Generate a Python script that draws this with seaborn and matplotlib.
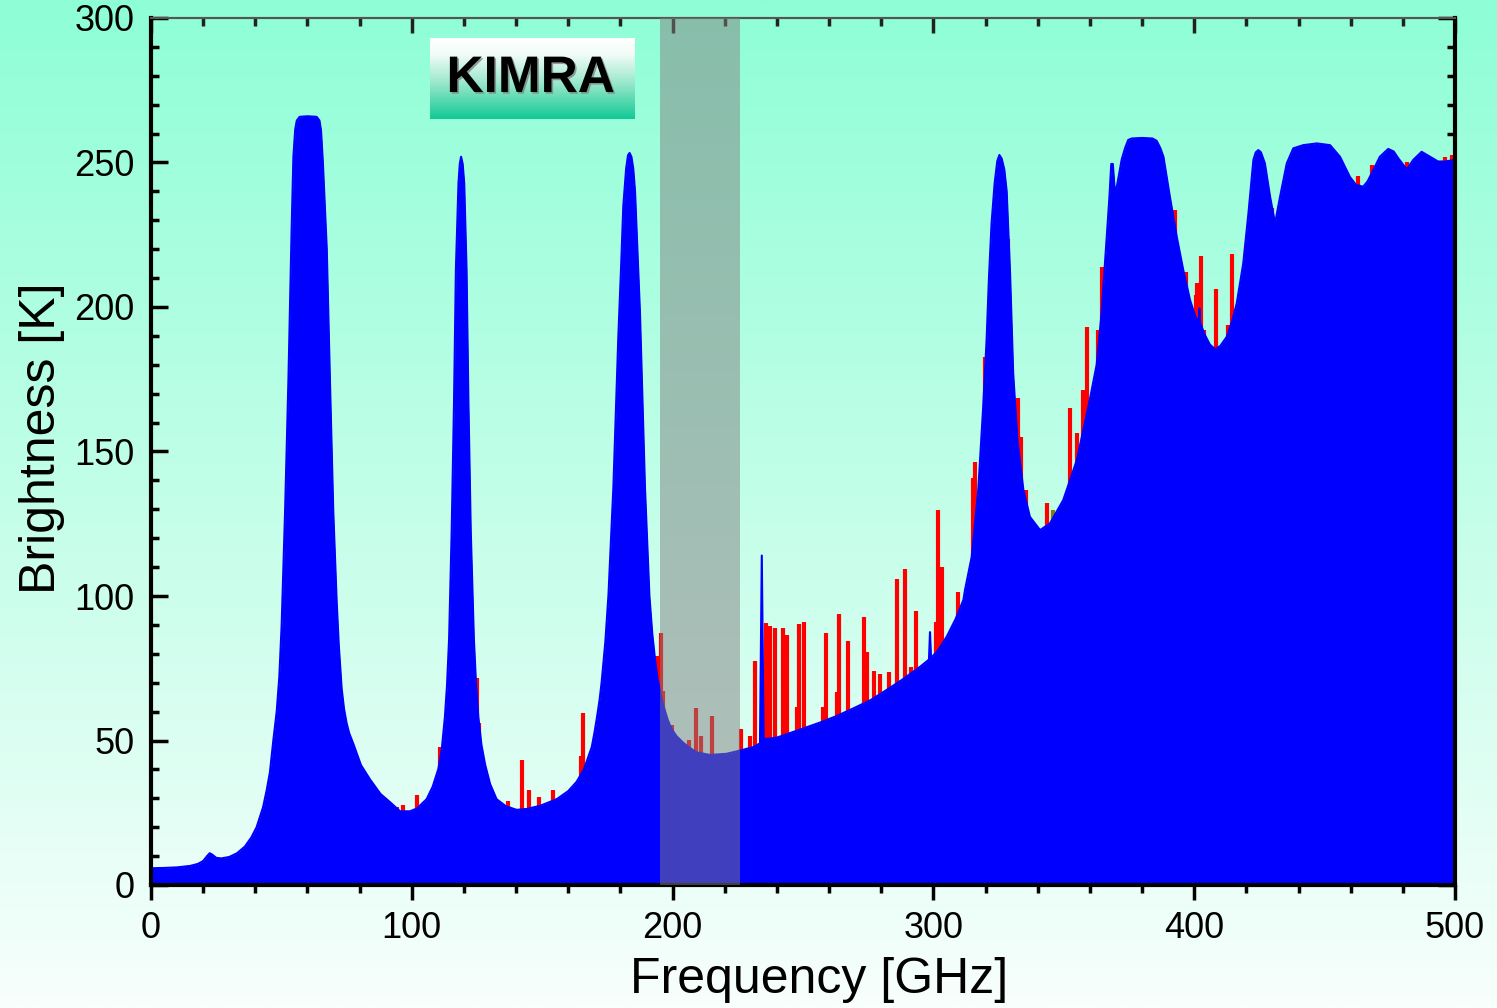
import numpy as np
import pandas as pd
import matplotlib
matplotlib.use("Agg")
import matplotlib.pyplot as plt
import seaborn as sns
from matplotlib.colors import LinearSegmentedColormap
from matplotlib.ticker import MultipleLocator
import matplotlib.patheffects as pe

# ---------------- data ----------------
freq_ghz = [
    0, 5, 10, 15, 18, 20, 21.5, 22.5, 23.5, 25,
    27, 30, 33, 36, 38.5, 40.5, 43, 44.4, 45.6, 46.9,
    48.2, 49.2, 50.1, 51.4, 52.7, 53.9, 54.6, 55.3, 55.9, 57,
    60, 63.5, 64.6, 65.2, 65.9, 66.6, 67.4, 68.6, 69.9, 71.2,
    72, 73.1, 74, 75, 76, 77.6, 80.5, 84, 88, 91.6,
    95.5, 99.3, 102, 105.7, 108, 110.2, 111.5, 112.7, 113.5, 114.3,
    115.3, 116.2, 116.9, 117.9, 118.4, 118.9, 119.5, 120.1, 121, 121.7,
    122.6, 123.8, 124.6, 125.5, 126.7, 128.1, 130, 132.5, 136, 140.2,
    144, 149.2, 155.6, 160, 163.2, 166, 169, 170, 171, 172,
    172.8, 174.2, 175.4, 177.3, 179.2, 180.3, 181.1, 182.2, 182.9, 183.5,
    184.2, 184.9, 185.6, 187.5, 189.4, 191.1, 192.2, 193.3, 194.2, 195.2,
    196, 197, 198, 199, 200.2, 201.5, 204.1, 206.5, 209.2, 214.3,
    220.7, 225.8, 230.9, 233.5, 234.0, 234.2, 234.4, 234.9, 237.3, 240,
    248, 256.5, 263, 269.3, 276, 282.1, 288, 294.9, 298.3, 298.7,
    299.1, 302, 305.1, 308.5, 311.5, 312.1, 314.7, 317.2, 319.1, 320.4,
    321.3, 322.3, 323.5, 324.5, 325.3, 326.2, 327.2, 328.1, 329.4, 330.6,
    332.2, 334.5, 337, 340.9, 344.7, 349.8, 355, 360, 362.6, 364.5,
    366.4, 367.5, 368.2, 368.8, 369.4, 370, 371, 372.2, 373.5, 374.7,
    376, 380, 384, 385.6, 387, 388.2, 390.7, 393.3, 395.8, 398.4,
    400.5, 401.7, 402, 402.3, 404, 406, 408, 410, 412.5, 414.5,
    416.3, 418.8, 420.8, 422.7, 423.6, 424.6, 425.6, 427.1, 429.1, 431,
    432.9, 435.5, 438, 441.8, 447, 452.1, 455.9, 459.7, 462, 464.8,
    466.5, 468.7, 471.2, 474.4, 476.5, 478.3, 481.5, 484, 487.2, 490.4,
    493.6, 496, 500,
]
brightness_k = [
    5.8, 5.9, 6.1, 6.6, 7.3, 8.3, 10.0, 11.0, 10.5, 9.4,
    9.2, 9.7, 11.0, 13.3, 16.5, 20, 27, 33, 39, 50,
    60, 72, 90, 129, 175, 226, 252, 261.5, 264.5, 265.8,
    266, 265.8, 264.5, 261, 250, 236, 220, 175, 129, 98,
    83, 68, 61, 56, 52.5, 48.8, 41.5, 36.5, 31.5, 28.7,
    25.5, 25.5, 26.5, 29.7, 34, 40.2, 47, 58.2, 69, 85.2,
    122.7, 167.7, 212.8, 242.8, 249.5, 252, 249.5, 242.8, 212.8, 167.7,
    122.7, 85.2, 70, 58.2, 48.5, 41.7, 35, 29.7, 27.3, 26,
    26.3, 27.4, 29.7, 32.5, 35.7, 40, 47.7, 52.5, 58, 64,
    70.2, 84, 100.2, 137.8, 190, 215, 235, 248, 252.5, 253.3,
    252, 248, 240, 197.7, 137.7, 100.2, 87, 77.7, 71.5, 67.2,
    63.5, 60.5, 57.5, 55.2, 53.2, 51.5, 49.2, 47.5, 45.9, 45,
    45.4, 46.5, 47.7, 49, 95, 114, 95, 50.5, 50.7, 51,
    53.5, 56.2, 58.5, 61.1, 64, 67.5, 71, 75.5, 78, 87.5,
    78.5, 81.5, 85.9, 92, 98.6, 102, 113.6, 136.7, 165.5, 188.6,
    210, 228.9, 243, 250.5, 252.6, 251.3, 247.5, 240, 211.6, 177,
    154, 136.7, 127.4, 122.8, 125.1, 133.2, 147, 168, 180, 198,
    223, 238, 249.5, 249.5, 242, 239.9, 245, 251, 255, 257.8,
    258.3, 258.5, 258.3, 257.5, 255, 252, 238, 224.3, 212.8, 202.4,
    196.5, 195, 199.5, 194.5, 190.5, 187, 185.4, 186.5, 189.7, 195,
    201.2, 215, 232.4, 250.9, 253.5, 254.3, 253.5, 249.7, 238.1, 228.9,
    238, 249.7, 254.9, 256, 256.6, 256, 252, 245, 242.3, 241.6,
    243.5, 247.4, 252, 254.7, 253.8, 251.4, 247.6, 250.9, 253.7, 252,
    250.3, 250.3, 250.9,
]

# ozone (red) emission lines: centre frequency and peak brightness
o3_freq = [
    94.2, 96.7, 101.9, 104.2, 109.5, 111.0, 124.9, 125.9, 128.9, 137.0,
    142.4, 145.1, 148.9, 154.3, 156.2, 164.9, 165.8, 193.9, 195.4, 196.5,
    199.7, 206.4, 209.0, 210.9, 215.0, 226.2, 229.7, 231.6, 235.9, 237.3,
    239.3, 242.5, 243.9, 247.8, 248.5, 250.2, 257.8, 258.8, 263.2, 263.8,
    267.4, 273.2, 274.6, 277.1, 279.6, 283.0, 286.1, 289.1, 291.3, 293.3,
    301.0, 301.9, 303.3, 309.5, 315.3, 315.9, 319.8, 328.5, 332.6, 333.5,
    335.5, 343.4, 352.4, 355.2, 357.5, 358.8, 363.2, 364.5, 392.8, 396.8,
    400.6, 401.2, 402.6, 403.9, 408.3, 413.1, 414.4, 430.0, 462.9, 468.3,
    481.5, 496.2, 499.0,
]
o3_peak = [
    27, 27.7, 31.2, 28, 36.4, 47.8, 71.7, 56, 37, 29,
    43.4, 32.8, 30.5, 32.8, 30, 44.5, 59.4, 79.2, 87.2, 67.2,
    55.5, 50.2, 61.4, 51.4, 58.5, 54, 51.5, 77.5, 90.5, 89.5,
    89, 89, 86.5, 61.7, 90.3, 91.1, 61.7, 87.2, 66.8, 93.7,
    84.5, 92.8, 80.7, 74, 73.1, 73.8, 106, 109.2, 75.5, 94.9,
    91, 129.8, 110.1, 101.5, 140.7, 146.5, 182.8, 223.7, 168.4, 155.1,
    136.7, 132.3, 164.9, 156.3, 171.3, 193.2, 192, 213.9, 233.6, 212.2,
    204.2, 208.2, 217.5, 192, 206.4, 193.8, 218.3, 234.1, 245.3, 249,
    250.3, 252, 252.5,
]
other_freq = [346.0]
other_peak = [129.8]

kimra_band = (195.0, 225.7)
x_major = [0, 100, 200, 300, 400, 500]
y_major = [0, 50, 100, 150, 200, 250, 300]

# ---------------- figure ----------------
sns.set_theme(style="ticks")
plt.rcParams['font.family'] = ['Liberation Sans', 'DejaVu Sans']

W, H = 1497, 1008
fig = plt.figure(figsize=(W / 100, H / 100), dpi=100)

# background gradient over the whole figure
bg = fig.add_axes([0, 0, 1, 1], zorder=-10)
grad = np.linspace(0, 1, 512).reshape(-1, 1)
bg_cmap = LinearSegmentedColormap.from_list("bg", ["#f8fffc", "#8efed6"])
bg.imshow(grad, aspect="auto", cmap=bg_cmap, origin="lower", extent=[0, 1, 0, 1])
bg.axis("off")

L, R, T, B = 151, 1455, 18, 885
ax = fig.add_axes([L / W, 1 - B / H, (R - L) / W, (B - T) / H])
ax.set_facecolor("none")

df = pd.DataFrame({"Frequency": freq_ghz, "Brightness": brightness_k})
assert len(freq_ghz) == len(brightness_k)
assert len(o3_freq) == len(o3_peak)

ax.vlines(o3_freq, 0, o3_peak, color="#ff0000", lw=3.0, zorder=1)
ax.vlines(other_freq, 0, other_peak, color="#808000", lw=3.0, zorder=1)
ax.fill_between(df["Frequency"], 0, df["Brightness"], color="#0000ff", lw=0, zorder=2)
sns.lineplot(data=df, x="Frequency", y="Brightness", color="#0000ff", lw=1.5,
             ax=ax, zorder=2, sort=False)
ax.axvspan(*kimra_band, color=(0.5, 0.5, 0.5), alpha=0.5, lw=0, zorder=4)

ax.set_xlim(0, 500)
ax.set_ylim(0, 300)
ax.set_xticks(x_major)
ax.set_yticks(y_major)
ax.xaxis.set_minor_locator(MultipleLocator(20))
ax.yaxis.set_minor_locator(MultipleLocator(10))

ax.tick_params(axis="x", which="both", direction="out", bottom=True, top=False,
               width=2.5, color="black", labelcolor="black", labelsize=26, pad=8)
ax.tick_params(axis="x", which="major", length=11)
ax.tick_params(axis="x", which="minor", length=6)
ax.tick_params(axis="y", which="both", direction="in", left=True, right=True,
               width=2.5, color="black", labelcolor="black", labelsize=26, pad=12)
ax.tick_params(axis="y", which="major", length=12)
ax.tick_params(axis="y", which="minor", length=6)

sec = ax.secondary_xaxis("top")
sec.set_xticks(x_major)
sec.xaxis.set_minor_locator(MultipleLocator(20))
sec.tick_params(axis="x", which="both", direction="in", width=2.5, color="#222222",
                labeltop=False)
sec.tick_params(axis="x", which="major", length=11)
sec.tick_params(axis="x", which="minor", length=6)
sec.spines["top"].set_color("#555555")
sec.spines["top"].set_linewidth(1.5)

for side in ["left", "bottom", "right"]:
    ax.spines[side].set_color("black")
    ax.spines[side].set_linewidth(3)
ax.spines["top"].set_color("#555555")
ax.spines["top"].set_linewidth(1.5)

ax.set_xlabel("Frequency [GHz]", fontsize=36, color="black")
ax.set_ylabel("Brightness [K]", fontsize=36, color="black")
ax.xaxis.set_label_coords(0.512, -0.083)
ax.yaxis.set_label_coords(-0.066, 0.515)

# KIMRA label box with vertical gradient
bx0, by0, bx1, by1 = 430, 38, 635, 119
box = fig.add_axes([bx0 / W, 1 - by1 / H, (bx1 - bx0) / W, (by1 - by0) / H], zorder=5)
box_cmap = LinearSegmentedColormap.from_list(
    "box", [(0.0, "#12c995"), (0.45, "#9be8cc"), (0.8, "#f2fcf8"), (1.0, "#ffffff")])
box.imshow(grad, aspect="auto", cmap=box_cmap, origin="lower", extent=[0, 1, 0, 1])
box.set_xlim(0, 1)
box.set_ylim(0, 1)
box.axis("off")
box.text(0.49, 0.5, "KIMRA", fontsize=37, fontweight="bold", color="black",
         ha="center", va="center",
         path_effects=[pe.SimplePatchShadow(offset=(1.2, -1.2), shadow_rgbFace="#777777",
                                            alpha=0.7), pe.Normal()])

fig.savefig("out.png", dpi=100)
